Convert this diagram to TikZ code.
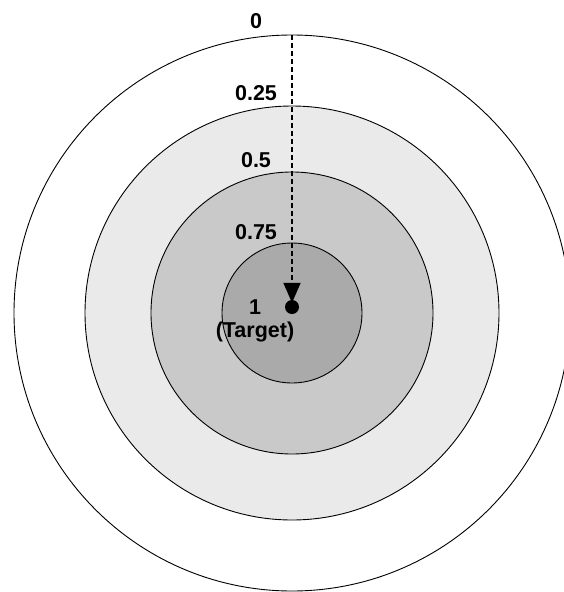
\documentclass[tikz,border=0pt]{standalone}
\usepackage{fontspec}
\setmainfont{Liberation Sans}
\usetikzlibrary{arrows.meta}
\definecolor{ringA}{HTML}{EAEAEA}
\definecolor{ringB}{HTML}{C9C9C9}
\definecolor{ringC}{HTML}{AAAAAA}
\begin{document}
\begin{tikzpicture}[x=1pt,y=-1pt,
  ring/.style={circle,draw=black,line width=0.9pt,inner sep=0pt},
  lbl/.style={font=\bfseries\fontsize{21.5}{24}\selectfont,inner sep=0pt},
  pointer/.style={line width=1.9pt,dash pattern=on 5pt off 3pt,-{Triangle[length=20pt,width=17pt]}}]
\useasboundingbox (0,0) rectangle (563,592);
\node[ring,fill=white,minimum size=556pt] (r0) at (292,313) {};
\node[ring,fill=ringA,minimum size=414pt] (r1) at (292,313) {};
\node[ring,fill=ringB,minimum size=282pt] (r2) at (292,313) {};
\node[ring,fill=ringC,minimum size=140pt] (r3) at (292,313) {};
\node[circle,fill=black,minimum size=14pt,inner sep=0pt] (tgt) at (292,307) {};
\coordinate (start) at (292,35);
\draw[pointer,shorten >=-3pt] (start) -- (tgt.north);
\node[lbl] (l0) at (256,21) {0};
\node[lbl] (l1) at (256,93) {0.25};
\node[lbl] (l2) at (256,160) {0.5};
\node[lbl] (l3) at (256,232) {0.75};
\node[lbl] (l4) at (255,307) {1};
\node[lbl] (l5) at (255,332) {(Target)};
\end{tikzpicture}
\end{document}
